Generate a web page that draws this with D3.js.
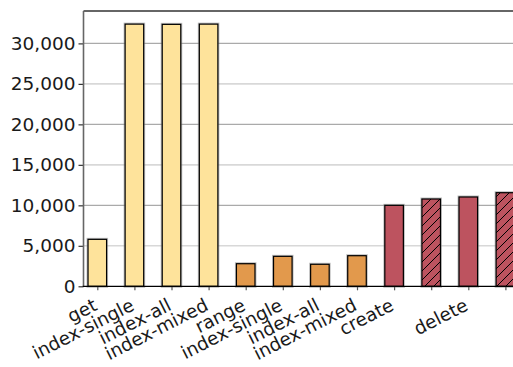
<!DOCTYPE html>
<html>
<head>
<meta charset="utf-8">
<script src="https://cdn.jsdelivr.net/npm/d3@7"></script>
<style>
  html, body { margin: 0; padding: 0; background: #fff; }
  svg { display: block; font-family: "DejaVu Sans", sans-serif; }
</style>
</head>
<body>
<svg id="chart" width="513" height="367"></svg>
<script>
// Operation labels along the x axis (hatched bars carry no label)
const categories = ["get", "index-single", "index-all", "index-mixed",
                    "range", "index-single", "index-all", "index-mixed",
                    "create", "", "delete", ""];
// Throughput per operation
const values = [5800, 32380, 32350, 32380,
                2790, 3700, 2720, 3780,
                10000, 10780, 11030, 11560];
// Group of each bar: 0 = point reads, 1 = range reads, 2 = writes
const groups = [0, 0, 0, 0, 1, 1, 1, 1, 2, 2, 2, 2];
const hatched = [false, false, false, false, false, false, false, false,
                 false, true, false, true];
const yTicks = [0, 5000, 10000, 15000, 20000, 25000, 30000];

const groupColors = ["#FEE39B", "#E2994C", "#BD535F"];

const svg = d3.select("#chart");
const plotLeft = 83.5, plotRight = 519.2, plotTop = 11, plotBottom = 286.3;

const x = d3.scaleLinear().domain([-0.372, 11.372]).range([plotLeft, plotRight]);
const y = d3.scaleLinear().domain([0, 34000]).range([plotBottom, plotTop]);
const barW = x(0.5) - x(0);

// diagonal hatch
const defs = svg.append("defs");
defs.append("pattern")
  .attr("id", "hatch")
  .attr("patternUnits", "userSpaceOnUse")
  .attr("width", 9).attr("height", 9)
  .call(p => {
    p.append("rect").attr("width", 9).attr("height", 9).attr("fill", groupColors[2]);
    p.append("path").attr("d", "M-1,1 L1,-1 M0,9 L9,0 M8,10 L10,8")
      .attr("stroke", "#000").attr("stroke-width", 1);
  });

// gridlines, alternating strong/light
svg.append("g").selectAll("line")
  .data(yTicks.filter(d => d > 0))
  .join("line")
  .attr("x1", plotLeft).attr("x2", 513)
  .attr("y1", d => y(d)).attr("y2", d => y(d))
  .attr("stroke", d => (d / 5000) % 2 === 0 ? "#aaaaaa" : "#d8d8d8")
  .attr("stroke-width", d => (d / 5000) % 2 === 0 ? 1.2 : 1.6);

// bars
const bars = svg.append("g").selectAll("g")
  .data(values.map((v, i) => ({ v, i })))
  .join("g");

bars.append("rect")
  .attr("x", d => x(d.i) - barW / 2)
  .attr("y", d => y(d.v))
  .attr("width", barW)
  .attr("height", d => y(0) - y(d.v))
  .attr("fill", "none")
  .attr("stroke", "#888")
  .attr("stroke-opacity", 0.55)
  .attr("stroke-width", 3);

bars.append("rect")
  .attr("x", d => x(d.i) - barW / 2)
  .attr("y", d => y(d.v))
  .attr("width", barW)
  .attr("height", d => y(0) - y(d.v))
  .attr("fill", d => hatched[d.i] ? "url(#hatch)" : groupColors[groups[d.i]])
  .attr("stroke", "#000")
  .attr("stroke-width", 1.2);

// y axis
const yAxis = d3.axisLeft(y)
  .tickValues(yTicks)
  .tickSize(5)
  .tickPadding(3)
  .tickFormat(d3.format(","));
const gy = svg.append("g").attr("transform", `translate(${plotLeft},0)`).call(yAxis);
gy.select(".domain").remove();
gy.selectAll(".tick line").attr("stroke", "#333").attr("stroke-width", 1.2);
gy.selectAll(".tick text")
  .attr("font-size", 18.5)
  .attr("fill", "#1a1a1a")
  .attr("font-family", "DejaVu Sans");

// x axis, rotated labels ending at their tick
const xAxis = d3.axisBottom(x)
  .tickValues(d3.range(categories.length))
  .tickSize(4)
  .tickFormat(i => categories[i]);
const gx = svg.append("g").attr("transform", `translate(0,${plotBottom})`).call(xAxis);
gx.select(".domain").remove();
gx.selectAll(".tick line").attr("stroke", "#555").attr("stroke-width", 1.2);
gx.selectAll(".tick text")
  .attr("font-size", 18.3)
  .attr("fill", "#1a1a1a")
  .attr("font-family", "DejaVu Sans")
  .attr("text-anchor", "end")
  .attr("x", 0.5).attr("y", 23).attr("dy", null)
  .attr("transform", "rotate(-27, 0.5, 23)");

// spines
svg.append("line").attr("x1", plotLeft).attr("x2", 513).attr("y1", plotTop).attr("y2", plotTop)
  .attr("stroke", "#333").attr("stroke-width", 1.3);
svg.append("line").attr("x1", plotLeft).attr("x2", plotLeft).attr("y1", plotTop).attr("y2", plotBottom)
  .attr("stroke", "#666").attr("stroke-width", 1.6);
svg.append("line").attr("x1", plotLeft - 0.8).attr("x2", 513).attr("y1", plotBottom).attr("y2", plotBottom)
  .attr("stroke", "#000").attr("stroke-width", 1.3);
</script>
</body>
</html>
